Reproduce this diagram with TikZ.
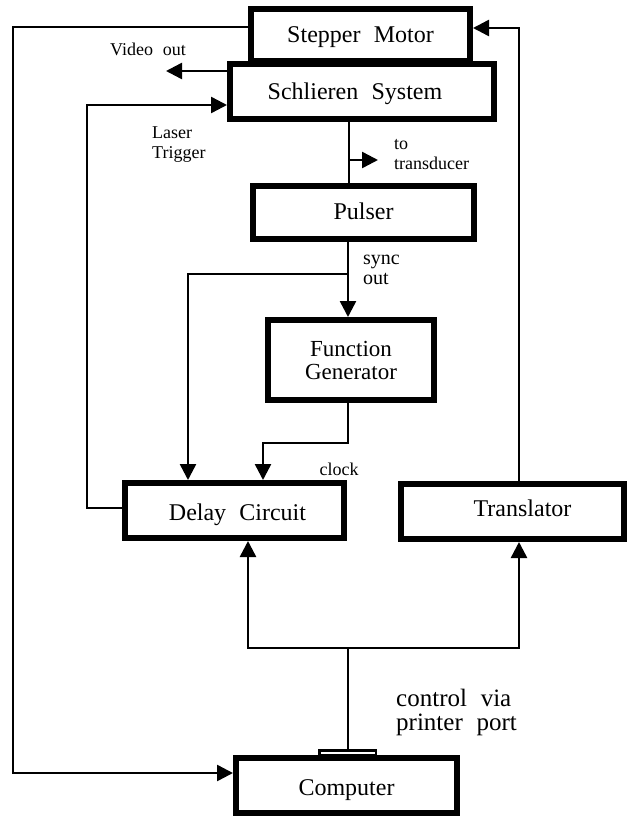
\documentclass[tikz,border=0pt]{standalone}
\usepackage{fontspec}
\setmainfont{Liberation Serif}
\usetikzlibrary{arrows.meta}
\newcommand\wsp{\hspace{0.55em}}
\begin{document}
\begin{tikzpicture}[x=1pt,y=-1pt,
  box/.style={draw, line width=6pt, fill=white, inner sep=0pt, text height=16pt, text depth=0pt, font=\fontsize{24}{28}\selectfont},
  conn/.style={line width=2.5pt},
  arr/.style={conn, -{Triangle[length=16pt,width=16pt]}},
  small/.style={inner sep=0pt, font=\fontsize{18}{20}\selectfont},
]
\useasboundingbox (0,0) rectangle (628,816);

% boxes
\node[box, minimum width=219pt, minimum height=52pt] (stepper) at (360.5,35) {Stepper\wsp Motor};
\node[box, minimum width=264pt, minimum height=55pt] (schlieren) at (362,91.5) {Schlieren\wsp System\hspace*{14pt}};
\node[box, minimum width=221pt, minimum height=53pt, text height=13pt] (pulser) at (363.5,212.5) {Pulser};
\node[box, minimum width=166pt, minimum height=80pt, align=center, text height=, text depth=, font=\fontsize{23}{23}\selectfont] (fg) at (351,360) {Function\\Generator};
\node[box, minimum width=219pt, minimum height=55pt, text height=20pt] (delay) at (234.5,510.5) {\hspace*{6pt}Delay\wsp Circuit};
\node[box, minimum width=223pt, minimum height=55pt, text height=10pt] (translator) at (512.5,511.5) {\hspace*{20pt}Translator};
\node[box, minimum width=221pt, minimum height=55pt, text height=19pt] (computer) at (346.5,785.5) {Computer};
\node[draw, line width=2.5pt, fill=white, minimum width=56.5pt, minimum height=4.5pt, inner sep=0pt] (tab) at (347.5,752.5) {};

% coordinates
\coordinate (Lx) at (13,27);
\coordinate (Ly) at (13,773);
\coordinate (Rt) at (519,28);
\coordinate (vid) at (166,71);
\coordinate (lt0) at (87,508);
\coordinate (lt1) at (87,105);
\coordinate (sp) at (349,160);
\coordinate (td) at (378,160);
\coordinate (c1) at (348,274);
\coordinate (c2) at (188,274);
\coordinate (c3) at (348,443);
\coordinate (c4) at (263,443);
\coordinate (b0) at (348,648);
\coordinate (bl) at (248,648);
\coordinate (br) at (519,648);

% connectors
\draw[arr] (stepper.west |- Lx) -- (Lx) -- (Ly) -- (computer.west |- Ly);
\draw[arr] (translator.north -| Rt) -- (Rt) -- (stepper.east |- Rt);
\draw[arr] (schlieren.west |- vid) -- (vid);
\draw[arr] (delay.west |- lt0) -- (lt0) -- (lt1) -- (schlieren.west |- lt1);
\draw[conn] (schlieren.south -| sp) -- (pulser.north -| sp);
\draw[arr] (sp) -- (td);
\draw[arr] (pulser.south -| c1) -- (fg.north -| c1);
\draw[arr] (c1) -- (c2) -- (delay.north -| c2);
\draw[arr] (fg.south -| c3) -- (c3) -- (c4) -- (delay.north -| c4);
\draw[conn] (tab.north -| b0) -- (b0);
\draw[arr] (b0) -- (bl) -- (delay.south -| bl);
\draw[arr] (b0) -- (br) -- (translator.south -| br);

% labels
\node[small] (lvideo) at (148,49) {Video\wsp out};
\node[small, align=left, anchor=north west] (llaser) at (152,127) {Laser\\Trigger};
\node[small, align=left, anchor=north west] (ltrans) at (394,139) {to\\transducer};
\node[inner sep=0pt, font=\fontsize{20}{20}\selectfont, align=left, anchor=north west] (lsync) at (363,255) {sync\\out};
\node[small] (lclock) at (339,469) {clock};
\node[inner sep=0pt, font=\fontsize{25}{24}\selectfont, align=left, anchor=north west] (lctrl) at (396,689) {control\wsp via\\printer\wsp port};
\end{tikzpicture}
\end{document}
